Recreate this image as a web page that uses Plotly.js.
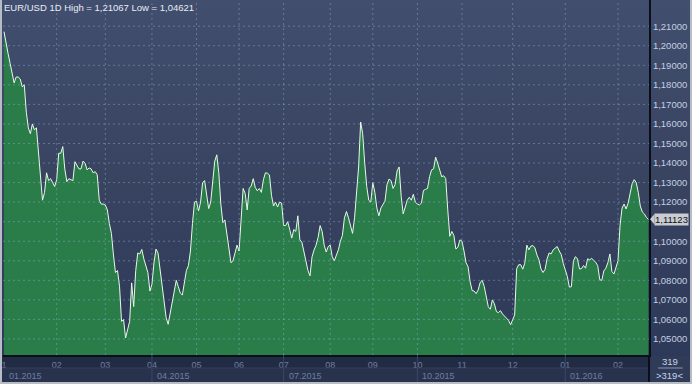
<!DOCTYPE html>
<html><head><meta charset="utf-8">
<script src="https://cdn.plot.ly/plotly-3.0.1.min.js"></script>
<style>
html,body{margin:0;padding:0;background:#2a3552;}
#wrap{position:relative;width:692px;height:384px;overflow:hidden;
 background:linear-gradient(to bottom,#414e6e 0%,#37435f 50%,#2b3757 100%);}
#chart{position:absolute;left:0;top:0;width:692px;height:384px;}
#frame{position:absolute;left:0;top:0;width:692px;height:384px;box-sizing:border-box;border-left:2px solid #b8bcc4;border-right:2px solid #b8bcc4;border-bottom:2px solid #b8bcc4;pointer-events:none;}
</style></head>
<body><div id="wrap"><div id="chart"></div><div id="frame"></div></div>
<script>
const symbol = 'EUR/USD';
const period = '1D';
const highVal = 1.21067;
const lowVal = 1.04621;

const values = [
1.2072,1.2004,1.196,1.191,1.185,1.181,1.184,1.184,1.183,1.179,
1.180,1.166,1.158,1.155,1.160,1.157,1.158,1.146,1.130,1.121,
1.125,1.135,1.131,1.132,1.130,1.128,1.1315,1.145,1.145,1.1484,
1.137,1.1305,1.132,1.1315,1.131,1.1407,1.139,1.137,1.137,1.141,
1.1399,1.1365,1.1375,1.137,1.135,1.1356,1.134,1.121,1.119,1.119,
1.1185,1.116,1.109,1.104,1.093,1.084,1.085,1.077,1.059,1.060,
1.0505,1.0545,1.059,1.0787,1.0666,1.085,1.094,1.0935,1.0958,1.091,
1.0878,1.084,1.0745,1.078,1.0889,1.096,1.094,1.085,1.078,1.067,
1.061,1.0575,1.0635,1.068,1.075,1.080,1.0768,1.0735,1.0725,1.079,
1.085,1.0875,1.095,1.109,1.120,1.1205,1.1155,1.120,1.130,1.131,
1.1228,1.1167,1.120,1.132,1.141,1.1442,1.135,1.119,1.1095,1.1109,
1.104,1.0981,1.089,1.090,1.094,1.098,1.095,1.114,1.127,1.1245,
1.116,1.127,1.1283,1.132,1.1275,1.1258,1.127,1.125,1.1314,1.135,
1.1348,1.1339,1.1235,1.118,1.120,1.1175,1.120,1.1195,1.108,1.108,
1.110,1.106,1.1016,1.106,1.105,1.113,1.1007,1.0995,1.095,1.089,
1.085,1.0823,1.092,1.0955,1.098,1.102,1.108,1.105,1.098,1.0945,
1.0973,1.098,1.092,1.090,1.0925,1.0956,1.100,1.103,1.112,1.1152,
1.112,1.108,1.104,1.112,1.1263,1.138,1.161,1.155,1.140,1.128,
1.121,1.120,1.130,1.125,1.117,1.113,1.117,1.119,1.1205,1.129,
1.1318,1.131,1.127,1.129,1.136,1.138,1.123,1.114,1.117,1.121,
1.1225,1.121,1.124,1.120,1.119,1.1186,1.1195,1.126,1.1265,1.127,
1.133,1.1365,1.137,1.143,1.140,1.137,1.133,1.1335,1.132,1.116,
1.1025,1.105,1.103,1.096,1.097,1.1007,1.100,1.095,1.089,1.087,
1.0795,1.0748,1.0745,1.0732,1.0751,1.079,1.080,1.0768,1.072,1.0665,
1.0652,1.070,1.068,1.064,1.0635,1.0645,1.0628,1.0617,1.0606,1.0595,
1.0573,1.060,1.0623,1.086,1.088,1.088,1.0857,1.0888,1.098,1.0956,
1.0975,1.0978,1.0966,1.093,1.0905,1.0858,1.084,1.0856,1.091,1.094,
1.0935,1.0956,1.0966,1.0973,1.095,1.0932,1.0886,1.0858,1.082,1.0765,
1.0768,1.090,1.0921,1.091,1.0858,1.086,1.0876,1.0862,1.091,1.0905,
1.0912,1.0903,1.0892,1.0875,1.0803,1.080,1.0848,1.0862,1.089,1.0935,
1.0845,1.0832,1.087,1.090,1.108,1.117,1.119,1.1165,1.1195,1.1255,
1.1295,1.1315,1.130,1.125,1.118,1.115,1.114,1.1122,1.11123
];

const monthIdx = [0,26,50,73,95,116,138,161,182,204,226,251,277,303];
const monthLabels = ['1','02','03','04','05','06','07','08','09','10','11','12','01','02'];
const quarterIdx = [0,73,138,204,277];
const quarterLabels = ['01.2015','04.2015','07.2015','10.2015','01.2016'];
const yTicks = [1.05,1.06,1.07,1.08,1.09,1.10,1.11,1.12,1.13,1.14,1.15,1.16,1.17,1.18,1.19,1.20,1.21];

const fmt = v => v.toFixed(5).replace('.', ',');
const xs = values.map((_, i) => i);
const last = values[values.length - 1];
const PH = 355; // plot height px (for paper offsets of the bottom strip)
// tick labels hidden behind the last-price marker, as in the original terminal
const yTickText = yTicks.map(v => Math.abs(v - last) < 0.006 ? '' : fmt(v));

const gridLine = {color:'rgba(150,172,215,0.45)', width:1, dash:'2px,3px'};
const shapes = [];
// bottom strip rows
shapes.push({type:'rect', xref:'paper', yref:'paper', x0:-0.002, x1:1, y0:0, y1:-13/PH, fillcolor:'#222b44', line:{width:0}, layer:'below'});
shapes.push({type:'rect', xref:'paper', yref:'paper', x0:-0.002, x1:1, y0:-13/PH, y1:-28/PH, fillcolor:'#28324d', line:{width:0}, layer:'below'});
shapes.push({type:'line', xref:'paper', yref:'paper', x0:-0.002, x1:1, y0:-13/PH, y1:-13/PH, line:{color:'#333e5a', width:1}});
quarterIdx.slice(1).forEach(q => shapes.push({type:'line', xref:'x', yref:'paper', x0:q, x1:q, y0:0, y1:-28/PH, line:{color:'#3b4766', width:1}}));
// right bottom cell
shapes.push({type:'rect', xref:'paper', yref:'paper', x0:1.002, x1:1.07, y0:-1/PH, y1:-28/PH, fillcolor:'#303b58', line:{width:0}, layer:'below'});
shapes.push({type:'line', xref:'paper', yref:'paper', x0:1.014, x1:1.052, y0:-13/PH, y1:-13/PH, line:{color:'#8a98b8', width:1}});
shapes.push({type:'line', xref:'paper', yref:'paper', x0:1, x1:1, y0:0, y1:-28/PH, line:{color:'#0b0f1a', width:2}});
// grid above the area
monthIdx.slice(1).forEach(m => shapes.push({type:'line', xref:'x', yref:'paper', x0:m, x1:m, y0:0, y1:1, line:gridLine, layer:'above'}));
yTicks.forEach(v => shapes.push({type:'line', xref:'paper', yref:'y', x0:0, x1:1, y0:v, y1:v, line:gridLine, layer:'above'}));
// price marker arrow
shapes.push({type:'path', xref:'paper', yref:'y', path:`M 1.0015 ${last} L 1.0085 ${last+0.0027} L 1.0085 ${last-0.0027} Z`, fillcolor:'#c9cdd3', line:{width:0}});

const annotations = [];
quarterIdx.forEach((q, i) => annotations.push({xref:'x', yref:'paper', x:q, y:-20.5/PH, xanchor:'left', yanchor:'middle', xshift:3, text:quarterLabels[i], showarrow:false, font:{size:9, color:'#6e7e9d'}}));
annotations.push({xref:'paper', yref:'y', x:1, y:last, xanchor:'left', yanchor:'middle', xshift:5, text:fmt(last), showarrow:false, bgcolor:'#c9cdd3', borderpad:0, font:{size:9.5, color:'#111111'}});
annotations.push({xref:'paper', yref:'paper', x:1.0325, y:-6.5/PH, xanchor:'center', yanchor:'middle', text:String(values.length), showarrow:false, font:{size:9.5, color:'#c9d3e8'}});
annotations.push({xref:'paper', yref:'paper', x:1.0325, y:-20/PH, xanchor:'center', yanchor:'middle', text:'&gt;' + values.length + '&lt;', showarrow:false, font:{size:9.5, color:'#c9d3e8'}});

const trace = {type:'scatter', mode:'lines', x:xs, y:values, fill:'tozeroy', fillcolor:'#2a7d49', line:{color:'#e6fbe6', width:1}, hoverinfo:'skip'};

const layout = {
  width:692, height:384,
  margin:{l:3, r:43, t:0, b:29, pad:0},
  paper_bgcolor:'rgba(0,0,0,0)', plot_bgcolor:'rgba(0,0,0,0)',
  showlegend:false,
  separators:', ',
  font:{family:'"Liberation Sans", Arial, sans-serif'},
  title:{text:`${symbol} ${period} High = ${fmt(highVal)} Low = ${fmt(lowVal)}`, xref:'container', yref:'container', x:4/692, xanchor:'left', y:1-7.5/384, yanchor:'middle', font:{size:9.5, color:'#e8ecf4'}},
  xaxis:{range:[-0.5,318.3], tickmode:'array', tickvals:monthIdx, ticktext:monthLabels, showgrid:false, zeroline:false, showline:true, linecolor:'#0b0f1a', linewidth:2, ticks:'', tickfont:{size:9, color:'#6e7e9d'}, fixedrange:true},
  yaxis:{side:'right', range:[1.0418,1.2234], tickmode:'array', tickvals:yTicks, ticktext:yTickText, showgrid:false, zeroline:false, showline:true, linecolor:'#0b0f1a', linewidth:2, ticks:'', tickfont:{size:9.5, color:'#c5cfe3'}, fixedrange:true},
  shapes, annotations
};

Plotly.newPlot('chart', [trace], layout, {displayModeBar:false, staticPlot:true});
</script>
</body></html>
